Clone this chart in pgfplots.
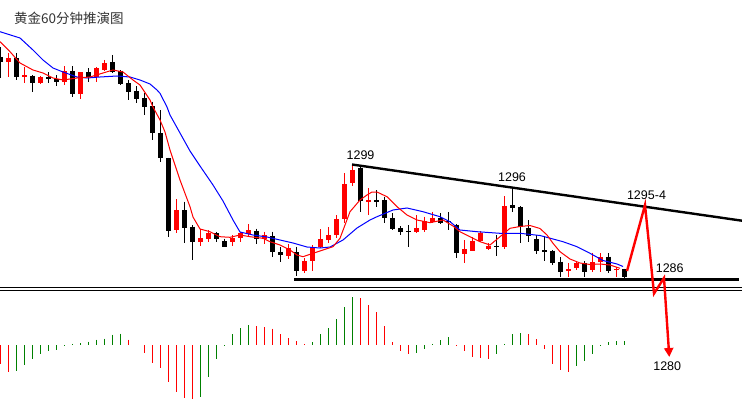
\documentclass[border=0pt]{standalone}
\usepackage{fontspec}
\setmainfont{Liberation Sans}
\newfontfamily\cjk{Noto Sans CJK SC}
\usepackage{pgfplots}
\usepackage{pgfplotstable}
\pgfplotsset{compat=1.18}
\usetikzlibrary{arrows.meta}
\definecolor{kred}{RGB}{255,0,0}
\definecolor{kgreen}{RGB}{0,128,0}
\definecolor{kblue}{RGB}{0,0,255}

% candles: i = bar index, H = high, T = body top, B = body bottom, L = low (screen units, downwards)
\pgfplotstableread{
i H T B L
1 53 58 62 77
3 67 75 76.5 83
5 76 77 83 83.5
8 66 71 82 85
10 72 72 94 99
12 67 68 77 82
13 60 63 70 71
22 199.3 210 230 232.7
25 229 238.3 241.7 245.7
26 230 233 239 241.7
29 235 238.3 242.3 245.7
30 232 233.3 238.3 241.7
31 224 230 234 236.7
33 231.7 235 239.3 244
36 244.3 247.7 256 259
38 258.3 261 270.7 273.3
39 245 246.7 261 271
40 229.3 239.3 247.3 248.3
41 227.3 235 240 242.7
42 215 219.3 235 238.3
43 173 184.3 219.3 222.7
44 164.5 169.5 183 186
46 188 200 201.5 215
52 215 228.3 232.3 232.5
53 216.7 221 230 231.7
54 211.7 217.7 221.7 222.7
58 240 249 254 262.7
59 237.3 240.7 250.7 251
60 231 232.7 240.7 241.7
61 243.3 245.7 249 250
63 196 206 247.3 249.3
71 263.3 269.4 270.7 277.3
72 261 263.3 268.3 270
74 252.7 262.3 270 271.7
75 253.3 257.3 261.7 271.7
77 266.7 268.7 270 277.3
}\redC

\pgfplotstableread{
i H T B L
0 47 57 62 78
2 53 58 77 80
4 75 75.5 83 92
6 72 77 78.5 83
7 75 79 82 86
9 66 71 94 97
11 68 72 77 82
14 55 62 72 72.5
15 70 70.5 84 85
16 80 83 92 100
17 86 91 99 103
18 93 98.3 107.3 115
19 101.7 106 133.3 140
20 110 133.3 158.3 161.7
21 157.7 158 230.7 236.7
23 201.7 210 227.5 242.7
24 225 226.7 241.7 259.5
27 231.7 233 239 242.3
28 238.7 241.3 246.7 247
32 228.7 230.7 239.3 244
34 231.7 236 252.3 257.3
35 246.7 252.3 255.3 261.7
37 246.7 252.3 270.7 276
45 166.7 168.3 201 211.7
47 190 200 201.7 206.7
48 196.7 200 218.3 223.3
49 213.3 218.3 229 229.5
50 226 228.3 232.3 235
51 225 230.5 231.8 246.7
55 213.3 218.3 222.7 224
56 212.3 221 222.3 230
57 224 224.5 253.3 258.3
62 235 245.5 246.8 256
64 186.7 205 208.3 212.3
65 206 207.3 227 242.5
66 220 228 236 241.7
67 235 239.3 250.7 254
68 236 250.3 251.6 260.7
69 250 250.7 262.7 265
70 257.3 261.7 271.7 277.3
73 261 263.3 271.7 277.3
76 253.3 256.7 270.7 273.3
78 268.5 269.3 277.3 277.5
}\blackC

% MACD histogram: top = upper end, len = bar length (screen units); zero line at 345
\pgfplotstableread{
i top len
0 345 19
1 345 26.7
16 339.7 5.3
18 345 7.7
19 345 17.7
20 345 22.7
21 345 36.7
22 345 46.7
23 345 52.7
24 345 53.7
32 326 19
33 327 18
34 328.7 16.3
35 334 11
36 338 7
37 341 4
38 343.8 1.2
45 298 47
46 305 40
47 312 33
48 326 19
49 342 3
50 345 6
51 345 9
57 345 1.2
58 345 6
59 345 12
60 345 13
61 345 14
66 334 11
67 339 6
68 345 4
69 345 19
70 345 25
71 345 27
}\macdR

\pgfplotstableread{
i top len
2 345 26
3 345 19.7
4 345 13.7
5 345 8.7
6 345 5.7
7 345 4.7
8 345 1.2
9 343.8 1.2
10 343 2
11 341.7 3.3
12 339.7 5.3
13 338.7 6.3
14 334.7 10.3
15 333.7 11.3
25 345 51.7
26 345 31.7
27 345 13.7
28 345 1.2
29 334 11
30 328 17
31 325 20
39 342 3
40 334 11
41 328 17
42 319 26
43 307 38
44 297 48
52 345 8
53 345 4
54 343.8 1.2
55 340 5
56 337 8
62 345 9
63 343.8 1.2
64 334 11
65 333 12
72 345 21
73 345 16
74 345 9
75 345 1.2
76 342 3
77 341 4
78 341 4
}\macdG

\pgfplotstableread{
x y
0 31.7
20 38
33 50
43 60
53 68
63 72
77 77
87 78
100 77
117 76
130 77
140 80
150 84
157 90
160 93.3
167 107
170 115
180 133
190 151
200 166
213 185
223 201
233 220
240 232
253 235
267 237
280 240
293 243
307 247
320 248
330 247
343 240
357 228
370 220
377 216.7
393 210
407 208
423 211.7
440 216.7
450 221.7
460 230
477 231.7
500 233.3
520 233.3
540 235.5
553 239
563 241.7
577 246.7
590 253.3
603 260.5
617 264
623 266.5
}\maBlue

\pgfplotstableread{
x y
0 41.7
10 51.7
20 63
33 70
43 73
53 78
63 80
77 78
90 77
103 73
113 70
123 72
133 80
140 85
150 100
153 107
160 120
165 132
170 150
180 180
190 206.7
193 217
200 229
210 231.7
220 236.7
230 237.3
240 235
250 236.7
263 238.3
270 241.7
280 245
290 250
297 255
303 256.7
313 253.3
323 250
333 246.7
340 238.3
350 211.7
360 200
367 195
372 192
377 192
387 196.7
397 206.7
407 215
417 220
430 222.7
443 220
453 226
460 231.7
470 236.7
480 241.7
490 245
500 236.7
510 228.3
520 226.5
530 225.5
540 228.5
547 235
553 243.3
560 251.7
570 259
580 263
590 264.5
600 264
610 265
620 268.3
}\maRed

\pgfplotsset{
  bars/.style 2 args={draw=none, mark=none, forget plot,
    error bars/.cd, y dir=plus, y explicit, error mark=none,
    error bar style={draw=#1, solid, line width=#2}},
}

\begin{document}
\begin{tikzpicture}
\useasboundingbox (0,0) rectangle (742bp,399bp);
\begin{axis}[
  scale only axis, width=742bp, height=399bp,
  xmin=0, xmax=742, ymin=0, ymax=399, y dir=reverse,
  hide axis,
]
% separator double line
\addplot[black, line width=1bp] coordinates {(0,287.5) (742,287.5)};
\addplot[black, line width=1bp] coordinates {(0,290.2) (742,290.2)};

% wicks
\addplot[bars={kred}{1bp}]
  table[x expr=8*\thisrow{i}+0.5, y=H, y error plus expr=\thisrow{L}-\thisrow{H}] {\redC};
\addplot[bars={black}{1bp}]
  table[x expr=8*\thisrow{i}+0.5, y=H, y error plus expr=\thisrow{L}-\thisrow{H}] {\blackC};
% bodies
\addplot[bars={kred}{5bp}]
  table[x expr=8*\thisrow{i}+0.5, y=T, y error plus expr=\thisrow{B}-\thisrow{T}] {\redC};
\addplot[bars={black}{5bp}]
  table[x expr=8*\thisrow{i}+0.5, y=T, y error plus expr=\thisrow{B}-\thisrow{T}] {\blackC};

% moving averages
\addplot[kblue, line width=1bp] table[x=x, y=y] {\maBlue};
\addplot[kred, line width=1bp] table[x=x, y=y] {\maRed};

% MACD histogram
\addplot[bars={kred}{1.8bp}]
  table[x expr=8*\thisrow{i}+0.5, y=top, y error plus=len] {\macdR};
\addplot[bars={kgreen}{1.8bp}]
  table[x expr=8*\thisrow{i}+0.5, y=top, y error plus=len] {\macdG};

% trend lines
\addplot[black, line width=2.4bp] coordinates {(352,164.5) (742,220.7)};
\addplot[black, line width=2.7bp] coordinates {(294,279.3) (738.7,279.3)};

% projected path
\addplot[kred, line width=2.4bp, line join=miter, -{Triangle[width=9bp,length=9bp]}]
  coordinates {(627,271) (645,205) (654,293.5) (664,278) (669.3,357)};

% labels
\node[inner sep=0pt, font=\fontsize{12.5bp}{14bp}\selectfont] at (axis cs:360.5,155.5) {1299};
\node[inner sep=0pt, font=\fontsize{12.5bp}{14bp}\selectfont] at (axis cs:512,176.7) {1296};
\node[inner sep=0pt, font=\fontsize{12.5bp}{14bp}\selectfont] at (axis cs:646.5,195) {1295-4};
\node[inner sep=0pt, font=\fontsize{12.5bp}{14bp}\selectfont] at (axis cs:669.7,268.3) {1286};
\node[inner sep=0pt, font=\fontsize{12.5bp}{14bp}\selectfont] at (axis cs:667.2,366) {1280};
\node[inner sep=0pt, anchor=west, text=black!80, font=\cjk\fontsize{13.5bp}{15bp}\selectfont] at (axis cs:14,18.5) {黄金60分钟推演图};
\end{axis}
\end{tikzpicture}
\end{document}
